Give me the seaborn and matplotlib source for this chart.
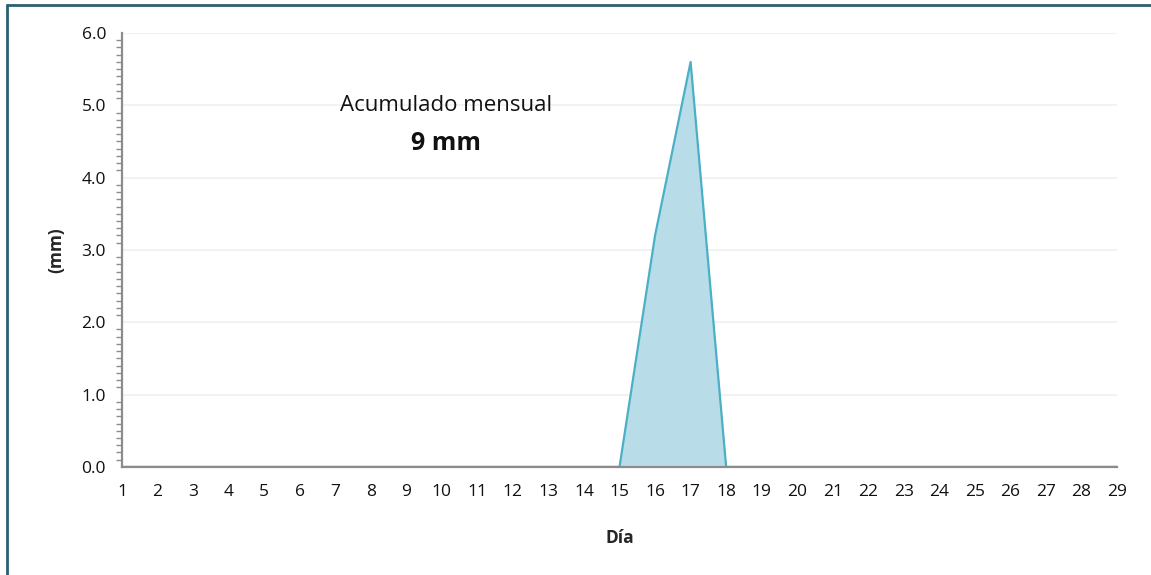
import matplotlib
matplotlib.use("Agg")
import matplotlib.pyplot as plt
from matplotlib.lines import Line2D
from matplotlib.ticker import MultipleLocator
import seaborn as sns

sns.set_theme(style="white")
plt.rcParams['font.family'] = ['Open Sans', 'DejaVu Sans']

days = list(range(1, 30))
rain_mm = [0, 0, 0, 0, 0, 0, 0, 0, 0, 0, 0, 0, 0, 0, 0,
           3.2, 5.6, 0, 0, 0, 0, 0, 0, 0, 0, 0, 0, 0, 0]
total_text = "9 mm"

fig = plt.figure(figsize=(11.51, 5.75), dpi=100)
ax = fig.add_axes([0.106, 0.188, 0.8645, 0.7546])

line_col = "#4bafc6"
fill_col = "#b8dde8"
ax.fill_between(days, rain_mm, 0, color=fill_col, zorder=1, linewidth=0)
sns.lineplot(x=days, y=rain_mm, ax=ax, color=line_col, linewidth=1.6, zorder=2)

ax.set_xlim(1, 29)
ax.set_ylim(0, 6)
ax.set_xticks(days)
ax.set_xticklabels([str(d) for d in days])
ax.yaxis.set_major_locator(MultipleLocator(1.0))
ax.yaxis.set_minor_locator(MultipleLocator(0.1))
ax.set_yticklabels(["{:.1f}".format(v) for v in ax.get_yticks()])

ax.grid(axis="y", color="#f0f0f0", linewidth=1.2, zorder=0)
ax.set_axisbelow(True)
for s in ["top", "right"]:
    ax.spines[s].set_visible(False)
for s in ["left", "bottom"]:
    ax.spines[s].set_color("#8c8c8c")
    ax.spines[s].set_linewidth(1.6)
    ax.spines[s].set_zorder(3)

ax.tick_params(axis="x", which="major", direction="out", length=5, width=1.2,
               color="#8c8c8c", labelsize=12.5, pad=7, labelcolor="#111111")
ax.tick_params(axis="y", which="major", direction="inout", length=9, width=1.2,
               color="#8c8c8c", labelsize=12.5, pad=7, labelcolor="#111111")
ax.tick_params(axis="y", which="minor", direction="out", length=4, width=1.0,
               color="#8c8c8c", left=True)

ax.set_xlabel("Día", fontsize=12.5, fontweight="bold", labelpad=21)
ax.set_ylabel("(mm)", fontsize=12.5, fontweight="bold", labelpad=12)

ax.text(0.326, 0.832, "Acumulado mensual", transform=ax.transAxes,
        ha="center", va="center", fontsize=16, color="#111111")
ax.text(0.326, 0.745, total_text, transform=ax.transAxes,
        ha="center", va="center", fontsize=18, fontweight="bold", color="#111111")

# chart frame (top and left edges visible, the rest runs off the image)
frame_col = "#2b6070"
fig.lines.append(Line2D([7 / 1151, 1.0], [1 - 5 / 575, 1 - 5 / 575], transform=fig.transFigure,
                        color=frame_col, linewidth=2))
fig.lines.append(Line2D([7 / 1151, 7 / 1151], [0.0, 1 - 5 / 575], transform=fig.transFigure,
                        color=frame_col, linewidth=2))

fig.savefig("out.png", dpi=100)
